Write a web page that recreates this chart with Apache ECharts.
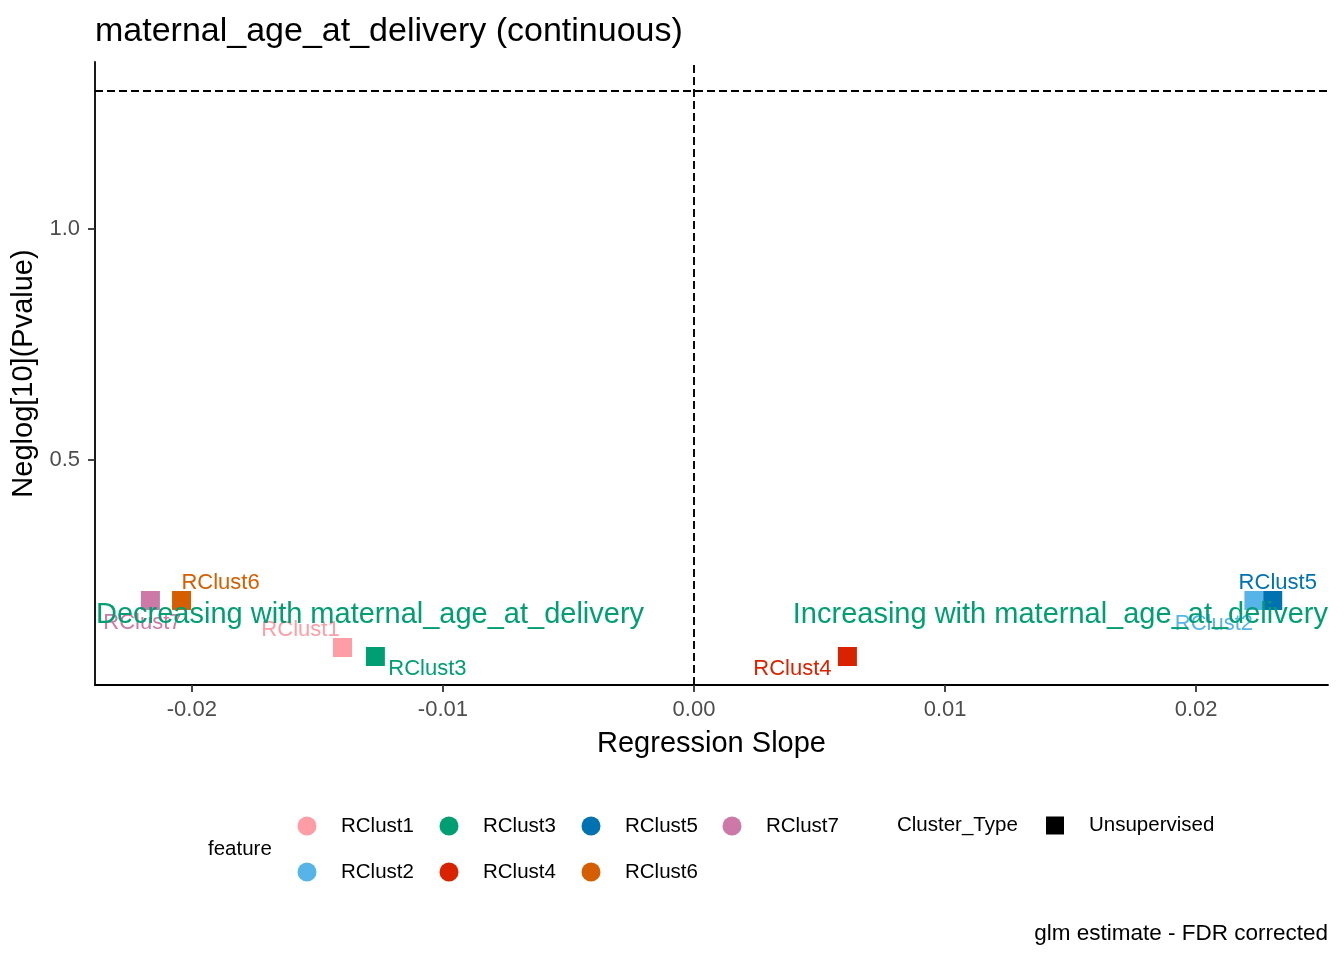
<!DOCTYPE html>
<html>
<head>
<meta charset="utf-8">
<title>maternal_age_at_delivery (continuous)</title>
<script src="https://cdn.jsdelivr.net/npm/echarts@6/dist/echarts.min.js"></script>
<style>
  html, body { margin: 0; padding: 0; background: #fff; }
  #chart { width: 1344px; height: 960px; }
</style>
</head>
<body>
<div id="chart"></div>
<script>
// Volcano-style plot: regression slope vs -log10(FDR p) per cluster

const clusters = ['RClust1', 'RClust2', 'RClust3', 'RClust4', 'RClust5', 'RClust6', 'RClust7'];
const slopes = [-0.01400, 0.02230, -0.01269, 0.00611, 0.02305, -0.02041, -0.02165];
const negLogP = [0.0936, 0.1955, 0.0741, 0.0741, 0.1955, 0.1955, 0.1955];
const clusterColors = ['#FF9DA7', '#56B4E9', '#009E73', '#D92200', '#0072B2', '#D55E00', '#CC79A7'];
// repel-style label nudges (px) relative to each point
const labelOffsets = [[-42, -18], [-40, 23], [52, 12], [-55, 12], [5, -18], [39, -18], [-8, 22]];

const xTicks = [-0.02, -0.01, 0, 0.01, 0.02];
const yTicks = [0.5, 1.0];
const xRange = [-0.023857, 0.025251];
const yRange = [0.0124, 1.3619];
const pCutoff = -Math.log10(0.05);
const annotY = 0.165;
const annotTexts = ['Decreasing with maternal_age_at_delivery', 'Increasing with maternal_age_at_delivery'];

const FONT = '"Liberation Sans", Arial, sans-serif';
const annotColor = '#009E73';

const series = clusters.map((name, i) => ({
  name,
  type: 'scatter',
  symbol: 'rect',
  symbolSize: 19,
  itemStyle: { color: clusterColors[i], opacity: 1 },
  data: [[slopes[i], negLogP[i]]],
  label: {
    show: true,
    position: 'inside',
    offset: labelOffsets[i],
    formatter: name,
    color: clusterColors[i],
    fontSize: 22,
    fontFamily: FONT
  },
  z: 3
}));

// reference lines (x = 0, y = -log10(0.05))
series[0].markLine = {
  silent: true,
  symbol: 'none',
  label: { show: false },
  lineStyle: { color: '#000', type: [8, 4], width: 1.9, opacity: 1 },
  data: [{ xAxis: 0 }, { yAxis: pCutoff }],
  z: 1
};

// direction annotations
series.push({
  name: 'annot',
  type: 'scatter',
  symbolSize: 0,
  silent: true,
  itemStyle: { opacity: 1, color: annotColor },
  data: [
    { value: [xRange[0], annotY], label: { position: 'right', align: 'left', distance: 1 } },
    { value: [xRange[1], annotY], label: { position: 'left', align: 'right', distance: 0 } }
  ].map((d, i) => ({ ...d, label: { ...d.label, formatter: annotTexts[i] } })),
  label: { show: true, color: annotColor, opacity: 1, fontSize: 29, fontFamily: FONT },
  z: 5
});

// shape legend placeholder
series.push({
  name: 'Unsupervised',
  type: 'scatter',
  symbol: 'rect',
  itemStyle: { color: '#000', opacity: 1 },
  data: []
});

const colCenters = [307, 449, 591, 732];
const rowCenters = [825, 871];
const legendBase = {
  itemWidth: 19,
  itemHeight: 19,
  padding: 0,
  inactiveColor: '#ccc',
  textStyle: { fontSize: 20.5, color: '#000', fontFamily: FONT, padding: [0, 0, 0, 19.5] }
};
const legends = clusters.map((name, i) => ({
  ...legendBase,
  data: [{ name, icon: 'circle', itemStyle: { opacity: 1 } }],
  left: colCenters[Math.floor(i / 2)] - 9.5,
  top: rowCenters[i % 2] - 9.5
}));
legends.push({
  ...legendBase,
  itemWidth: 18,
  itemHeight: 18,
  textStyle: { ...legendBase.textStyle, padding: [0, 0, 0, 20] },
  data: [{ name: 'Unsupervised', icon: 'rect', itemStyle: { opacity: 1 } }],
  left: 1055 - 9,
  top: 824 - 9
});

const chart = echarts.init(document.getElementById('chart'));
chart.setOption({
  animation: false,
  backgroundColor: '#fff',
  textStyle: { fontFamily: FONT },
  title: [
    {
      text: 'maternal_age_at_delivery (continuous)',
      left: 95, top: 15, padding: 0,
      textStyle: { fontSize: 34, fontWeight: 'normal', color: '#000', fontFamily: FONT }
    },
    {
      text: 'glm estimate - FDR corrected',
      right: 16, top: 922, padding: 0,
      textStyle: { fontSize: 22.5, fontWeight: 'normal', color: '#000', fontFamily: FONT }
    }
  ],
  graphic: [
    { type: 'text', left: 208, top: 849 - 10, style: { text: 'feature', fill: '#000', font: '20.5px ' + FONT } },
    { type: 'text', left: 897, top: 825 - 10, style: { text: 'Cluster_Type', fill: '#000', font: '20.5px ' + FONT } }
  ],
  legend: legends,
  grid: { left: 95, right: 16, top: 62, bottom: 275 },
  xAxis: {
    type: 'value',
    min: xRange[0],
    max: xRange[1],
    splitLine: { show: false },
    axisLine: { onZero: false, lineStyle: { color: '#000', width: 1.8 } },
    axisTick: { customValues: xTicks, length: 7, lineStyle: { color: '#333', width: 1.8 } },
    axisLabel: {
      customValues: xTicks,
      formatter: v => v.toFixed(2),
      fontSize: 22, color: '#4D4D4D', margin: 14, fontFamily: FONT
    },
    name: 'Regression Slope',
    nameLocation: 'middle',
    nameGap: 59,
    nameTextStyle: { fontSize: 29, color: '#000', verticalAlign: 'middle', fontFamily: FONT }
  },
  yAxis: {
    type: 'value',
    min: yRange[0],
    max: yRange[1],
    splitLine: { show: false },
    axisLine: { onZero: false, lineStyle: { color: '#000', width: 1.8 } },
    axisTick: { customValues: yTicks, length: 7, lineStyle: { color: '#333', width: 1.8 } },
    axisLabel: {
      customValues: yTicks,
      formatter: v => v.toFixed(1),
      fontSize: 22, color: '#4D4D4D', margin: 15, fontFamily: FONT
    },
    name: 'Neglog[10](Pvalue)',
    nameLocation: 'middle',
    nameGap: 61,
    nameTextStyle: { fontSize: 29, color: '#000', verticalAlign: 'middle', fontFamily: FONT }
  },
  series
});
</script>
</body>
</html>
